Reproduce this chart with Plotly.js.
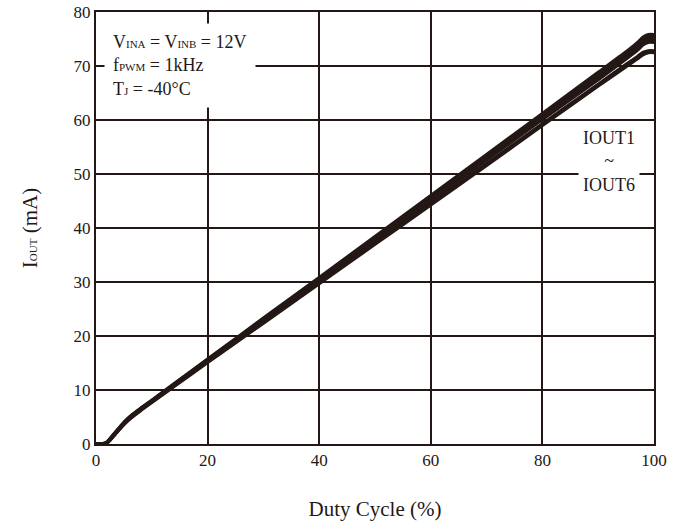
<!DOCTYPE html>
<html>
<head>
<meta charset="utf-8">
<script src="https://cdn.plot.ly/plotly-3.0.1.min.js"></script>
<style>html,body{margin:0;padding:0;background:#fff;}#chart{width:684px;height:526px;}</style>
</head>
<body>
<div id="chart"></div>
<script>
const duty = [0,1,2,3,4,5,6,8,10,15,20,30,40,50,60,70,80,90,95,97,98,99,100];
const iout1 = [0,0,0.4,1.6,2.8,4.0,5.0,6.6,8.1,11.9,15.7,23.3,30.8,38.4,46.0,53.6,61.2,68.8,72.6,74.3,75.3,75.8,75.8];
const iout2 = [0,0,0.3,1.5,2.7,3.9,4.9,6.5,8.0,11.8,15.6,23.1,30.6,38.1,45.7,53.2,60.8,68.3,72.1,73.7,74.8,75.3,75.3];
const iout3 = [0,0,0.3,1.5,2.7,3.9,4.9,6.5,8.0,11.7,15.5,23.0,30.5,38.0,45.5,53.0,60.5,68.0,71.7,73.3,74.3,74.8,74.8];
const iout4 = [0,0,0.3,1.4,2.6,3.8,4.8,6.4,7.9,11.6,15.4,22.8,30.3,37.7,45.2,52.6,60.1,67.5,71.3,72.9,73.9,74.4,74.4];
const iout5 = [0,0,0.2,1.3,2.5,3.7,4.7,6.3,7.8,11.5,15.2,22.5,29.9,37.2,44.6,51.9,59.3,66.6,70.3,71.7,72.5,72.8,72.8];
const iout6 = [0,0,0.2,1.3,2.5,3.6,4.6,6.2,7.7,11.4,15.1,22.4,29.7,37.0,44.3,51.6,59.0,66.3,69.9,71.3,72.1,72.5,72.5];
const seriesNames = ["IOUT1","IOUT2","IOUT3","IOUT4","IOUT5","IOUT6"];
const xTicks = [0,20,40,60,80,100];
const yTicks = [0,10,20,30,40,50,60,70,80];

const ink = "#231815";
const font = "Liberation Serif, Times New Roman, serif";
const all = [iout1,iout2,iout3,iout4,iout5,iout6];
const traces = all.map((ys,i)=>({
  x: duty, y: ys, type: "scatter", mode: "lines", name: seriesNames[i],
  line: {color: ink, width: 3.4, shape: "spline", smoothing: 0.6},
  cliponaxis: false, hoverinfo: "skip"
}));

const sm = t => '<span style="font-size:11px">' + t + '</span>';

const layout = {
  width: 684, height: 526,
  margin: {l: 96, r: 30, t: 12, b: 82},
  paper_bgcolor: "#fff", plot_bgcolor: "#fff",
  showlegend: false,
  font: {family: font, color: ink, size: 17},
  xaxis: {
    range: [0,100], tickvals: xTicks, ticktext: xTicks.map(String),
    showgrid: true, gridcolor: ink, gridwidth: 2,
    showline: true, linecolor: ink, linewidth: 2, mirror: true,
    zeroline: false, ticks: "",
    tickfont: {family: font, size: 17, color: ink},
    title: {text: "Duty Cycle (%)", font: {family: font, size: 21, color: ink}, standoff: 32}
  },
  yaxis: {
    range: [0,80], tickvals: yTicks, ticktext: yTicks.map(String),
    showgrid: true, gridcolor: ink, gridwidth: 2,
    showline: true, linecolor: ink, linewidth: 2, mirror: true,
    zeroline: false, ticks: "",
    tickfont: {family: font, size: 17, color: ink},
    title: {text: "I" + sm("OUT") + " (mA)", font: {family: font, size: 21, color: ink}, standoff: 30}
  },
  annotations: [
    {xref: "paper", yref: "paper", x: 0.014, y: 0.975, xanchor: "left", yanchor: "top",
     align: "left", showarrow: false, bgcolor: "#fff", borderpad: 8,
     font: {family: font, size: 18, color: ink},
     text: "V" + sm("INA") + " = V" + sm("INB") + " = 12V<br>f" + sm("PWM") + " = 1kHz<br>T" + sm("J") + " = -40°C"},
    {xref: "paper", yref: "paper", x: 0.92, y: 0.653, xanchor: "center", yanchor: "middle",
     align: "center", showarrow: false, bgcolor: "#fff", borderpad: 4,
     font: {family: font, size: 18, color: ink},
     text: "IOUT1<br>~<br>IOUT6"}
  ]
};

Plotly.newPlot("chart", traces, layout, {displayModeBar: false, staticPlot: true});
</script>
</body>
</html>
